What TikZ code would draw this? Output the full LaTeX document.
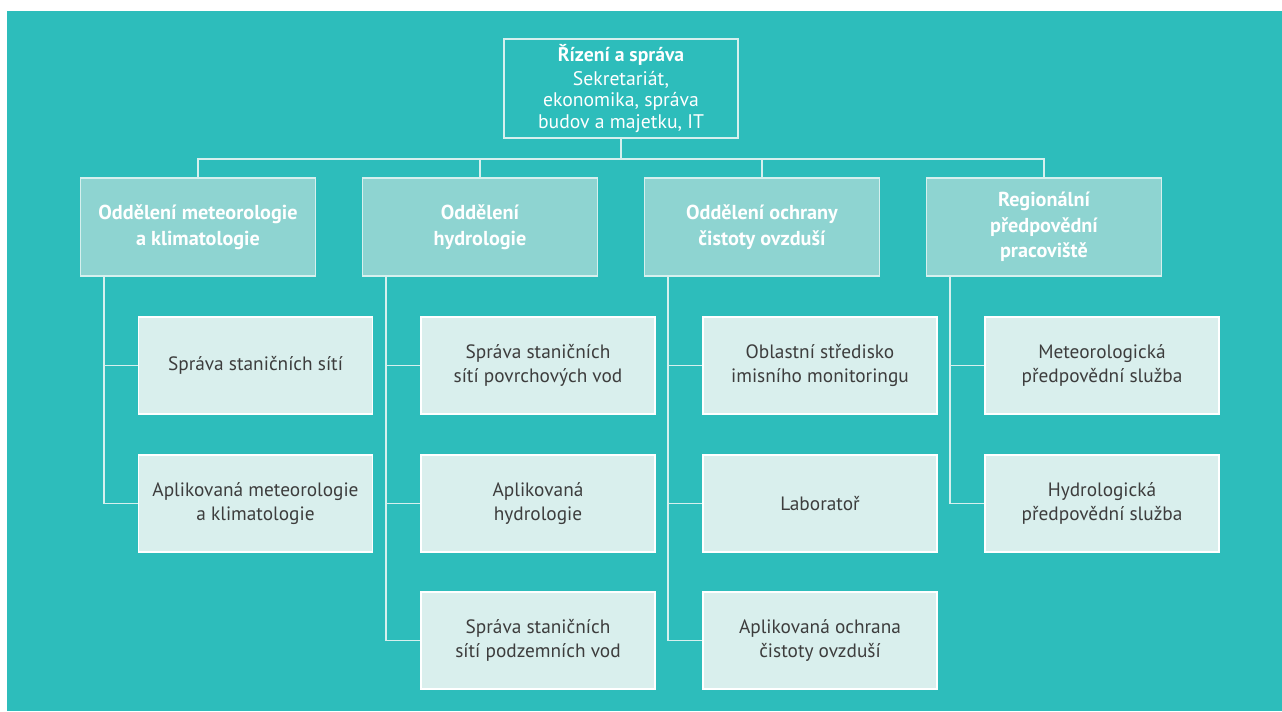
\documentclass[tikz,border=0pt]{standalone}
\usepackage{fontspec}
\setmainfont{PT Sans}
\usepackage{tikz}
\usetikzlibrary{positioning}
\usepackage{xcolor}
\definecolor{bgteal}{HTML}{2DBDBB}
\definecolor{deptfill}{HTML}{8ED4D1}
\definecolor{leaffill}{HTML}{D9EFED}
\definecolor{edgeline}{HTML}{D6F0EE}
\definecolor{leaftext}{HTML}{3D3D3D}

\begin{document}
\begin{tikzpicture}[x=0.02cm, y=-0.02cm,
  top/.style={draw=edgeline, line width=1.1pt, fill=bgteal, align=center, text=white,
              minimum width=4.68cm, minimum height=1.94cm, font=\fontsize{11.2}{12.3}\selectfont},
  dept/.style={draw=edgeline, line width=1.1pt, fill=deptfill, align=center, text=white,
               minimum width=4.7cm, minimum height=1.96cm, font=\bfseries\fontsize{11.5}{14.6}\selectfont},
  leaf/.style={draw=white, line width=1.1pt, fill=leaffill, align=center, text=leaftext,
               minimum width=4.68cm, minimum height=1.94cm, font=\fontsize{11}{13.6}\selectfont},
  link/.style={draw=edgeline, line width=1.1pt}
]
  % background and margins
  \fill[white] (0,0) rectangle (1282,711);
  \fill[bgteal] (7,11) rectangle (1282,711);

  % top
  \node[top] (top) at (621,88.5) {\textbf{Řízení a správa}\\[1pt]
    Sekretariát,\\ ekonomika, správa\\ budov a majetku, IT};

  % departments
  \node[dept] (d1) at (198,227) {Oddělení meteorologie\\ a klimatologie};
  \node[dept] (d2) at (480,227) {Oddělení\\ hydrologie};
  \node[dept] (d3) at (762,227) {Oddělení ochrany\\ čistoty ovzduší};
  \node[dept] (d4) at (1044,227) {Regionální\\ předpovědní\\ pracoviště};

  % sections
  \node[leaf] (s11) at (255.5,365.5) {Správa staničních sítí};
  \node[leaf] (s12) at (255.5,503.5) {Aplikovaná meteorologie\\ a klimatologie};

  \node[leaf] (s21) at (538,365.5) {Správa staničních\\ sítí povrchových vod};
  \node[leaf] (s22) at (538,503.5) {Aplikovaná\\ hydrologie};
  \node[leaf] (s23) at (538,640.5) {Správa staničních\\ sítí podzemních vod};

  \node[leaf] (s31) at (820,365.5) {Oblastní středisko\\ imisního monitoringu};
  \node[leaf] (s32) at (820,503.5) {Laboratoř};
  \node[leaf] (s33) at (820,640.5) {Aplikovaná ochrana\\ čistoty ovzduší};

  \node[leaf] (s41) at (1102,365.5) {Meteorologická\\ předpovědní služba};
  \node[leaf] (s42) at (1102,503.5) {Hydrologická\\ předpovědní služba};

  % links
  \foreach \d in {d1,d2,d3,d4}
    \draw[link] (top.south) -- ++(0,20) -| (\d.north);
  \foreach \s in {s11,s12}
    \draw[link] ([xshift=4.8mm]d1.south west) |- (\s.west);
  \foreach \s in {s21,s22,s23}
    \draw[link] ([xshift=4.8mm]d2.south west) |- (\s.west);
  \foreach \s in {s31,s32,s33}
    \draw[link] ([xshift=4.8mm]d3.south west) |- (\s.west);
  \foreach \s in {s41,s42}
    \draw[link] ([xshift=4.8mm]d4.south west) |- (\s.west);
\end{tikzpicture}
\end{document}
